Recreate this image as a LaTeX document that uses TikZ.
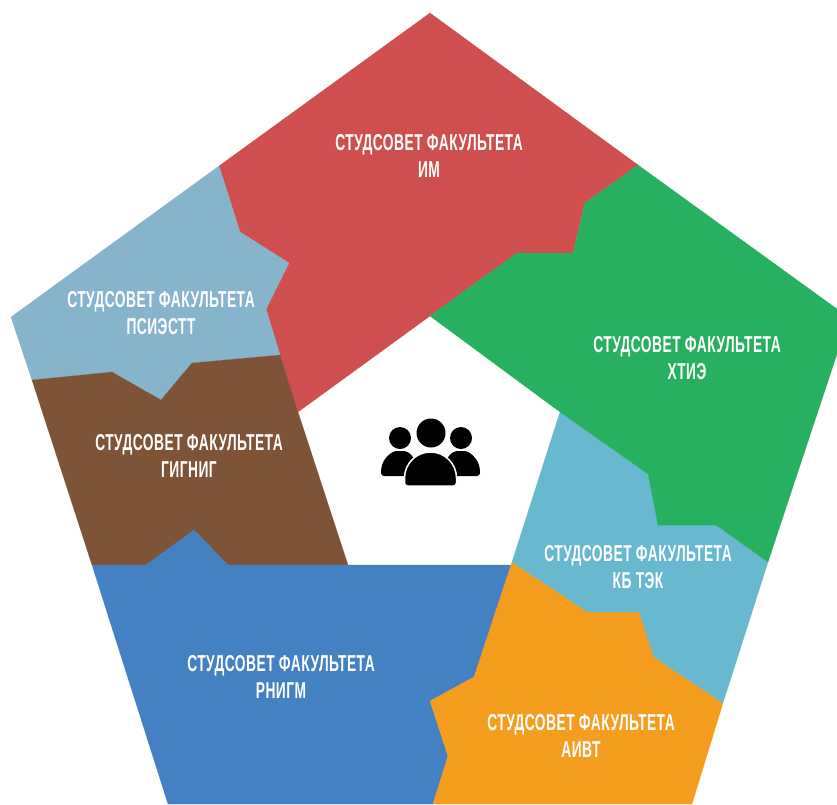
\documentclass[tikz,border=0pt]{standalone}
\usepackage{fontspec}
\newfontfamily\capsfont[FakeStretch=0.6,LetterSpace=2]{Liberation Sans Bold}
\usepackage{tikz}
\definecolor{imred}{HTML}{CF4E4E}
\definecolor{psblue}{HTML}{87B4CD}
\definecolor{gigbrown}{HTML}{7F5336}
\definecolor{rnblue}{HTML}{4481C3}
\definecolor{aivorange}{HTML}{F59D1F}
\definecolor{kbcyan}{HTML}{68B8CF}
\definecolor{xtgreen}{HTML}{27B060}
\tikzset{region/.style={fill=#1,draw=#1,line width=.2pt},
facname/.style={text=white,align=center,inner sep=0pt,font=\capsfont\fontsize{23}{27}\selectfont}}

\begin{document}
\begin{tikzpicture}[x=1pt,y=-1pt]
\useasboundingbox (0,0) rectangle (837,804);
\path[region=imred] (430,13) -- (638,165) -- (585,203) -- (573,253) -- (517,253) -- (430,316) -- (298,412) -- (280,355) -- (266,309) -- (289,263) -- (240,232) -- (219,166) -- cycle;
\path[region=psblue] (219,166) -- (240,232) -- (289,263) -- (266,309) -- (280,355) -- (192,363) -- (161,400) -- (112,372) -- (32,380) -- (11,317) -- cycle;
\path[region=gigbrown] (32,380) -- (112,372) -- (161,400) -- (192,363) -- (280,355) -- (298,412) -- (348,565) -- (228,565) -- (194,530) -- (146,565) -- (92,565) -- cycle;
\path[region=rnblue] (92,565) -- (146,565) -- (194,530) -- (228,565) -- (512,565) -- (474,677) -- (430,701) -- (448,756) -- (433,804) -- (168,804) -- cycle;
\path[region=aivorange] (512,562) -- (588,612) -- (639,612) -- (654,657) -- (723,703) -- (692,804) -- (433,804) -- (448,756) -- (430,701) -- (474,677) -- cycle;
\path[region=kbcyan] (560,412) -- (648,474) -- (658,525) -- (716,525) -- (768,562) -- (723,703) -- (654,657) -- (639,612) -- (588,612) -- (512,562) -- cycle;
\path[region=xtgreen] (638,165) -- (837,309) -- (837,354) -- (768,562) -- (716,525) -- (658,525) -- (648,474) -- (560,412) -- (430,316) -- (517,253) -- (573,253) -- (585,203) -- cycle;
% people icon
\fill (400,438) circle[radius=11];
\fill (461,438) circle[radius=11];
\fill (431,433) circle[radius=14.5];
\path[fill=black,rounded corners=3pt] (381,476) -- (381,470) .. controls (383,459) and (391,451) .. (400,451) .. controls (410,451) and (416,458) .. (418,476) -- cycle;
\path[fill=black,rounded corners=3pt] (480,476) -- (480,470) .. controls (478,459) and (470,451) .. (461,451) .. controls (451,451) and (445,458) .. (443,476) -- cycle;
\path[fill=black,draw=white,line width=1.5pt] (404.5,478) arc[start angle=180,end angle=360,radius=26] -- (456.5,483) arc[start angle=0,end angle=90,radius=3] -- (407.5,486) arc[start angle=90,end angle=180,radius=3] -- cycle;
\node[facname] (im) at (429,155.5) {СТУДСОВЕТ ФАКУЛЬТЕТА\\ИМ};
\node[facname] (psi) at (161,313.5) {СТУДСОВЕТ ФАКУЛЬТЕТА\\ПСИЭСТТ};
\node[facname] (xti) at (687,358.5) {СТУДСОВЕТ ФАКУЛЬТЕТА\\ХТИЭ};
\node[facname] (gig) at (189,455.5) {СТУДСОВЕТ ФАКУЛЬТЕТА\\ГИГНИГ};
\node[facname] (kbt) at (638,567.5) {СТУДСОВЕТ ФАКУЛЬТЕТА\\КБ ТЭК};
\node[facname] (rni) at (281,676.5) {СТУДСОВЕТ ФАКУЛЬТЕТА\\РНИГМ};
\node[facname] (aiv) at (581,735.5) {СТУДСОВЕТ ФАКУЛЬТЕТА\\АИВТ};
\end{tikzpicture}
\end{document}
